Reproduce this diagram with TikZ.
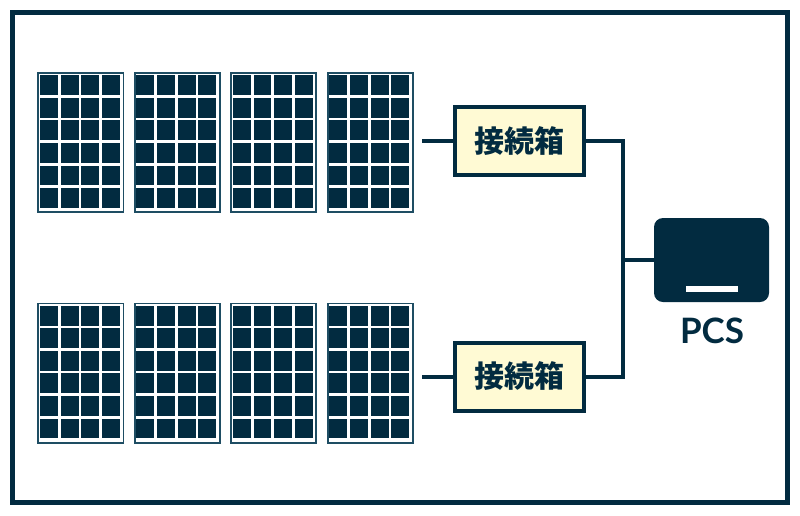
\documentclass[tikz,border=0pt]{standalone}
\usepackage{fontspec}
\setmainfont{Lato}
\newfontfamily\cjk{Noto Sans CJK JP}
\definecolor{navy}{HTML}{022B40}
\definecolor{pframe}{HTML}{1E4D63}
\definecolor{boxfill}{HTML}{FFFAD4}
\tikzset{
  panel/.style={rectangle, draw=pframe, line width=1.8pt, fill=white,
    minimum width=85.2pt, minimum height=139.2pt, inner sep=0pt},
  jbox/.style={rectangle, draw=navy, line width=4pt, fill=boxfill,
    minimum width=129pt, minimum height=68pt, inner sep=0pt,
    font=\cjk\bfseries\fontsize{30}{30}\selectfont, text=navy},
  pcsbox/.style={rectangle, fill=navy, rounded corners=9pt,
    minimum width=115pt, minimum height=84pt, inner sep=0pt},
  wire/.style={draw=navy, line width=4pt},
}
\begin{document}
\begin{tikzpicture}[x=1pt,y=-1pt]
\useasboundingbox (0,0) rectangle (800,515);
\draw[navy, line width=5.3pt] (12.2,12.5) rectangle (787.3,502.7);
% panels
\foreach \r/\yc in {1/142.5, 2/373} {
  \foreach \i in {1,...,4} {
    \node[panel] (p-\r-\i) at ({80.8+96.47*(\i-1)}, \yc) {};
    \foreach \c in {0,...,3} {
      \foreach \w in {0,...,5} {
        \fill[navy] ([shift={(2.6+\c*20.675, 3.2+\w*22.58)}]p-\r-\i.north west)
          rectangle ++(17.98,19.88);
      }
    }
  }
}
% junction boxes
\node[jbox] (jb1) at (519,141) {接続箱};
\node[jbox] (jb2) at (519,376.5) {接続箱};
% PCS
\node[pcsbox] (pcs) at (711.5,260) {};
\fill[white] ([shift={(-25.5,26)}]pcs.center) rectangle ++(52,6);
\node[text=navy, font=\bfseries\fontsize{35}{35}\selectfont, anchor=center] (pcslabel) at (712,331) {PCS};
% connectors
\coordinate (s1) at (422,141);
\coordinate (s2) at (422,376.5);
\coordinate (busmid) at (623,260);
\draw[wire] (s1) -- (jb1.west);
\draw[wire] (s2) -- (jb2.west);
\draw[wire] (jb1.east) -| (busmid) |- (jb2.east);
\draw[wire] (busmid) -- (pcs.west);
\end{tikzpicture}
\end{document}
